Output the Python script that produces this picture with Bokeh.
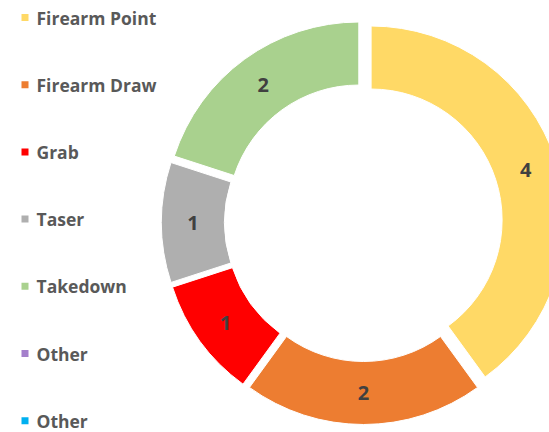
import math
from bokeh.plotting import figure
from bokeh.models import Range1d, ColumnDataSource
from bokeh.core.properties import value
from bokeh.embed import file_html
from bokeh.resources import INLINE

categories = ["Firearm Point", "Firearm Draw", "Grab", "Taser", "Takedown", "Other", "Other"]
values = [4, 2, 1, 1, 2, 0, 0]
colors = ["#FFD966", "#ED7D31", "#FF0000", "#AFAFAF", "#A9D18E", "#A47FCB", "#00B0F0"]

W, H = 549, 432
p = figure(width=W, height=H, output_backend="svg", toolbar_location=None,
           x_range=Range1d(0, W), y_range=Range1d(0, H),
           x_axis_location=None, y_axis_location=None, min_border=0)
p.grid.visible = False
p.outline_line_color = None
p.background_fill_color = "white"

cx, cy = 363, H - 222
r_in, r_out = 131, 194
explode = 8

total = sum(values)
xs, ys, starts, ends, fills, lx, ly, labs = [], [], [], [], [], [], [], []
cum = 0
for cat, v, c in zip(categories, values, colors):
    if v == 0:
        continue
    t1 = cum / total * 2 * math.pi
    cum += v
    t2 = cum / total * 2 * math.pi
    tm = (t1 + t2) / 2
    ox = cx + explode * math.sin(tm)
    oy = cy + explode * math.cos(tm)
    xs.append(ox); ys.append(oy)
    starts.append(math.pi / 2 - t2); ends.append(math.pi / 2 - t1)
    fills.append(c)
    rm = (r_in + r_out) / 2
    lx.append(ox + rm * math.sin(tm)); ly.append(oy + rm * math.cos(tm))
    labs.append(str(v))

src = ColumnDataSource(dict(x=xs, y=ys, s=starts, e=ends, c=fills))
p.annular_wedge(x="x", y="y", inner_radius=r_in, outer_radius=r_out,
                start_angle="s", end_angle="e", direction="anticlock",
                fill_color="c", line_color="white", line_width=1, source=src)

p.text(x=lx, y=ly, text=labs, text_align="center", text_baseline="middle",
       text_font=value("Open Sans"), text_font_style="bold", text_font_size="20px",
       text_color="#404040")

# legend
ly0 = H - 17
step = 67.2
lgx = [24.5] * len(categories)
lgy = [ly0 - i * step for i in range(len(categories))]
p.scatter(x=lgx, y=lgy, marker="square", size=7, fill_color=colors, line_color=None)
p.text(x=[36] * len(categories), y=lgy, text=categories, text_align="left",
       text_baseline="middle", text_font=value("Open Sans"), text_font_style="bold",
       text_font_size="17.5px", text_color="#595959")

open("out.html", "w").write(file_html(p, INLINE))
